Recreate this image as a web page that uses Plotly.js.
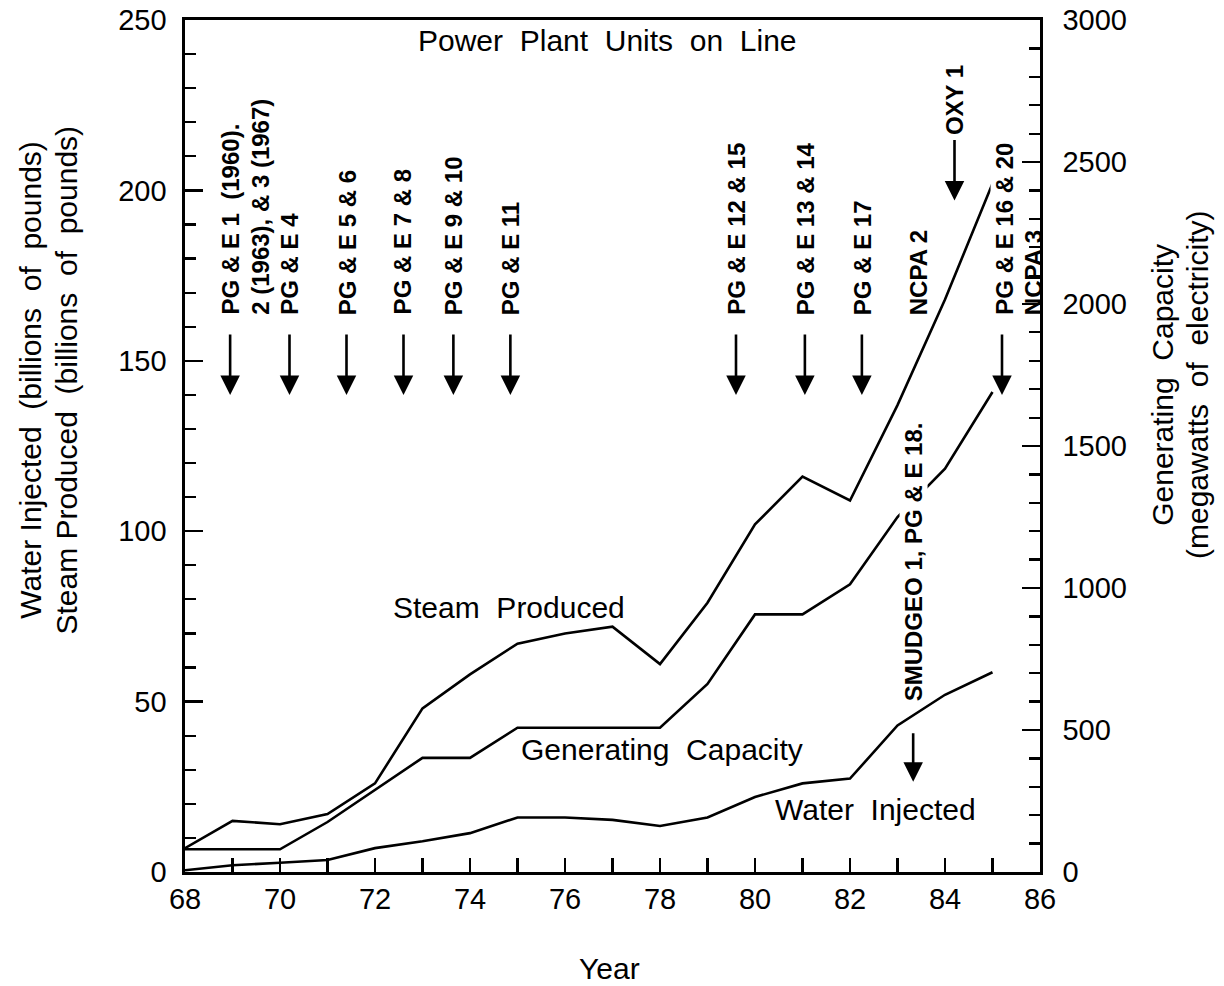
<!DOCTYPE html>
<html>
<head>
<meta charset="utf-8">
<script src="https://cdn.plot.ly/plotly-3.0.1.min.js"></script>
<style>html,body{margin:0;padding:0;background:#fff;}#chart{width:1224px;height:986px;}</style>
</head>
<body>
<div id="chart"></div>
<script>
// ---- data ----
const years = [68, 69, 70, 71, 72, 73, 74, 75, 76, 77, 78, 79, 80, 81, 82, 83, 84, 85];
const steamProduced = [7, 15, 14, 17, 26, 48, 58, 67, 70, 72, 61, 79, 102, 116, 109, 137, 168, 202];
const waterInjected = [0.5, 2, 2.7, 3.5, 7, 9, 11.4, 16, 16, 15.3, 13.5, 16, 22, 26, 27.4, 43, 52, 58.6];
const generatingCapacity = [80, 80, 80, 176, 290, 402, 402, 508, 508, 508, 508, 662, 907, 907, 1013, 1250, 1420, 1690];

const xTickVals = [68, 70, 72, 74, 76, 78, 80, 82, 84, 86];
const xTickText = ["68", "70", "72", "74", "76", "78", "80", "82", "84", "86"];

// power plant units on line: arrow years and label texts
const unitArrowYears = [68.95, 70.2, 71.4, 72.6, 73.65, 74.85, 79.6, 81.05, 82.25, 85.2];
const unitLabelYears = [68.95, 69.6, 70.21, 71.41, 72.57, 73.64, 74.84, 79.62, 81.05, 82.25, 83.43, 85.26, 85.85];
const unitLabelTexts = ["PG &amp; E 1  (1960).", "2 (1963), &amp; 3 (1967)", "PG &amp; E 4", "PG &amp; E 5 &amp; 6",
  "PG &amp; E 7 &amp; 8", "PG &amp; E 9 &amp; 10", "PG &amp; E 11", "PG &amp; E 12 &amp; 15", "PG &amp; E 13 &amp; 14",
  "PG &amp; E 17", "NCPA 2", "PG &amp; E 16 &amp; 20", "NCPA 3"];
const oxyYear = 84.2, oxyText = "OXY 1";
const smudgeoYear = 83.33, smudgeoText = "SMUDGEO 1, PG &amp; E 18.";

// ---- style ----
const FONT = "Liberation Sans, Arial, Helvetica, sans-serif";
const lineStyle = {color: "#000", width: 2.6};
const labelFont = {family: FONT, size: 24, color: "#000", weight: "bold"};

const traces = [
  {x: years, y: steamProduced, type: "scatter", mode: "lines", line: lineStyle, name: "Steam Produced", yaxis: "y"},
  {x: years, y: waterInjected, type: "scatter", mode: "lines", line: lineStyle, name: "Water Injected", yaxis: "y"},
  {x: years, y: generatingCapacity, type: "scatter", mode: "lines", line: lineStyle, name: "Generating Capacity", yaxis: "y2"}
];

const annotations = [];
const arrowTip = 140, arrowLen = -62;
const arrowStyle = {arrowhead: 2, arrowsize: 1.5, arrowwidth: 2.6, arrowcolor: "#000", standoff: 0, startstandoff: 0};
unitArrowYears.forEach(yr => annotations.push(Object.assign({
  x: yr, y: arrowTip, xref: "x", yref: "y", text: "", showarrow: true, ax: 0, ay: arrowLen
}, arrowStyle)));
unitLabelTexts.forEach((t, i) => annotations.push({
  x: unitLabelYears[i], y: 163.2, xref: "x", yref: "y", text: t, showarrow: false, textangle: -90,
  xanchor: "center", yanchor: "bottom", font: labelFont,
  bgcolor: i === unitLabelTexts.length - 1 ? "rgba(0,0,0,0)" : "#fff", borderpad: 0
}));
// OXY 1
annotations.push(Object.assign({x: oxyYear, y: 197, xref: "x", yref: "y", text: "", showarrow: true, ax: 0, ay: -62}, arrowStyle));
annotations.push({x: oxyYear, y: 215.5, xref: "x", yref: "y", text: oxyText, showarrow: false, textangle: -90,
  xanchor: "center", yanchor: "bottom", font: labelFont});
// SMUDGEO
annotations.push(Object.assign({x: smudgeoYear, y: 26.5, xref: "x", yref: "y", text: "", showarrow: true, ax: 0, ay: -50}, arrowStyle));
annotations.push({x: smudgeoYear, y: 49.7, xref: "x", yref: "y", text: smudgeoText, showarrow: false, textangle: -90,
  xanchor: "center", yanchor: "bottom", font: labelFont, bgcolor: "#fff", borderpad: 0});

// in-plot texts
const textFont = {family: FONT, size: 30, color: "#000"};
annotations.push({x: 76.9, y: 244, xref: "x", yref: "y", text: "Power  Plant  Units  on  Line", showarrow: false, font: textFont});
annotations.push({x: 74.82, y: 77.6, xref: "x", yref: "y", text: "Steam  Produced", showarrow: false, font: textFont});
annotations.push({x: 78.04, y: 35.9, xref: "x", yref: "y", text: "Generating  Capacity", showarrow: false, font: textFont});
annotations.push({x: 82.53, y: 18.2, xref: "x", yref: "y", text: "Water  Injected", showarrow: false, font: textFont});

// axis titles
const titleFont = {family: FONT, size: 30, color: "#000"};
annotations.push({x: -0.181, y: 0.577, xref: "paper", yref: "paper", text: "Water Injected  (billions  of  pounds)",
  showarrow: false, textangle: -90, font: titleFont, xanchor: "center", yanchor: "middle"});
annotations.push({x: -0.139, y: 0.577, xref: "paper", yref: "paper", text: "Steam Produced  (billions  of  pounds)",
  showarrow: false, textangle: -90, font: titleFont, xanchor: "center", yanchor: "middle"});
annotations.push({x: 1.144, y: 0.572, xref: "paper", yref: "paper", text: "Generating  Capacity",
  showarrow: false, textangle: -90, font: titleFont, xanchor: "center", yanchor: "middle"});
annotations.push({x: 1.184, y: 0.572, xref: "paper", yref: "paper", text: "(megawatts  of  electricity)",
  showarrow: false, textangle: -90, font: titleFont, xanchor: "center", yanchor: "middle"});
annotations.push({x: 0.497, y: -0.113, xref: "paper", yref: "paper", text: "Year",
  showarrow: false, font: titleFont, xanchor: "center", yanchor: "middle"});

const layout = {
  width: 1224, height: 986,
  margin: {l: 185, r: 184, t: 20, b: 114, pad: 0},
  paper_bgcolor: "#fff", plot_bgcolor: "#fff",
  showlegend: false,
  font: {family: FONT, color: "#000"},
  xaxis: {
    range: [68, 86], tickvals: xTickVals, ticktext: xTickText,
    ticks: "inside", ticklen: 14, tickwidth: 2.2, tickcolor: "#000",
    minor: {dtick: 1, tick0: 68, ticks: "inside", ticklen: 14, tickwidth: 2.2, tickcolor: "#000", showgrid: false},
    showline: true, linewidth: 2.6, linecolor: "#000", mirror: true,
    showgrid: false, zeroline: false,
    tickfont: {family: FONT, size: 29, color: "#000"}
  },
  yaxis: {
    range: [0, 250], dtick: 50, tick0: 0,
    ticks: "inside", ticklen: 18, tickwidth: 2.4, tickcolor: "#000",
    minor: {dtick: 10, ticks: "inside", ticklen: 11, tickwidth: 2.2, tickcolor: "#000", showgrid: false},
    showline: true, linewidth: 2.6, linecolor: "#000",
    showgrid: false, zeroline: false, ticklabelstandoff: 10,
    tickfont: {family: FONT, size: 29, color: "#000"}
  },
  yaxis2: {
    range: [0, 3000], dtick: 500, tick0: 0, overlaying: "y", side: "right",
    ticks: "inside", ticklen: 18, tickwidth: 2.4, tickcolor: "#000",
    minor: {dtick: 100, ticks: "inside", ticklen: 11, tickwidth: 2.2, tickcolor: "#000", showgrid: false},
    showline: true, linewidth: 2.6, linecolor: "#000",
    showgrid: false, zeroline: false, ticklabelstandoff: 14,
    tickfont: {family: FONT, size: 29, color: "#000"}
  },
  annotations: annotations
};

Plotly.newPlot("chart", traces, layout, {displayModeBar: false, staticPlot: true});
</script>
</body>
</html>
